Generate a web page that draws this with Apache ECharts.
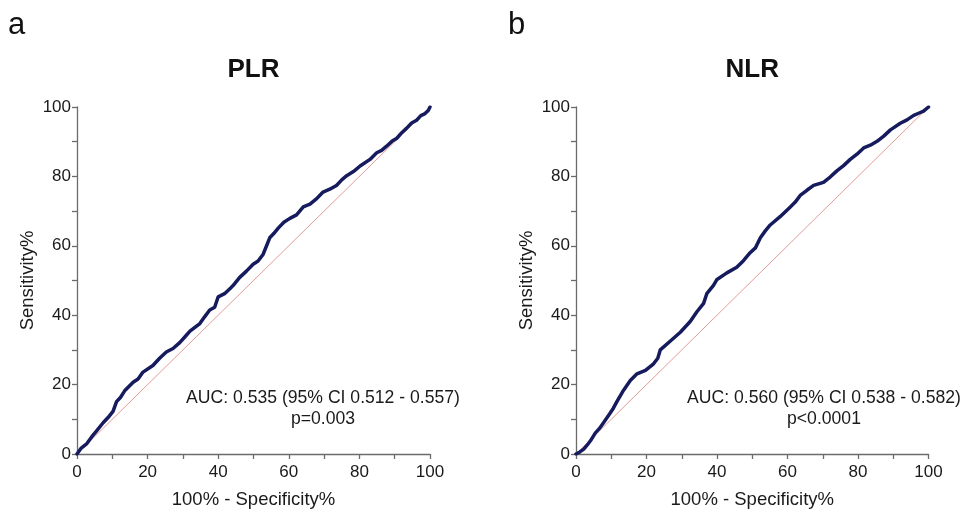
<!DOCTYPE html>
<html>
<head>
<meta charset="utf-8">
<script src="https://cdn.jsdelivr.net/npm/echarts@6/dist/echarts.min.js"></script>
<style>
  html, body { margin: 0; padding: 0; background: #fff; }
  #chart { width: 963px; height: 514px; }
</style>
</head>
<body>
<div id="chart"></div>
<script>
// ROC curve points: [100% - Specificity%, Sensitivity%]
const plrRoc = [
  [0, 0], [1.2, 1.7], [2.8, 3.0], [4.2, 5.0], [5.5, 6.6], [7.4, 9.0], [8.8, 10.5],
  [10.2, 12.3], [11.2, 15.1], [12.3, 16.3], [13.5, 18.2], [15.9, 20.7], [17.3, 21.6],
  [18.7, 23.6], [21.5, 25.5], [23.4, 27.6], [25.3, 29.4], [27.2, 30.4], [29.1, 32.1],
  [30.6, 33.8], [32.0, 35.4], [34.8, 37.6], [36.2, 39.6], [37.6, 41.5], [39.0, 42.3],
  [40.0, 45.3], [41.8, 46.2], [43.3, 47.6], [44.6, 49.0], [46.1, 50.9], [48.0, 52.7],
  [49.9, 54.7], [51.3, 55.6], [52.7, 57.5], [54.6, 62.3], [55.8, 63.6], [57.0, 65.1],
  [58.6, 66.8], [60.3, 67.9], [62.2, 68.9], [64.1, 71.2], [66.0, 72.0], [67.9, 73.6],
  [69.7, 75.5], [71.6, 76.3], [73.5, 77.4], [75.0, 79.0], [76.4, 80.2], [78.3, 81.4],
  [80.2, 83.0], [83.0, 84.9], [84.9, 86.8], [86.3, 87.5], [87.7, 88.7], [89.2, 90.1],
  [90.6, 91.0], [92.0, 92.6], [93.4, 93.9], [94.8, 95.4], [96.2, 96.2], [97.4, 97.5],
  [98.6, 98.1], [99.5, 99.0], [100, 100]
];
const nlrRoc = [
  [0, 0], [1.1, 0.6], [2.2, 1.4], [3.2, 2.6], [4.1, 3.8], [5.5, 6.1], [6.6, 7.3],
  [7.8, 9.0], [9.7, 11.8], [10.6, 13.2], [11.6, 15.1], [13.5, 18.4], [15.4, 21.2],
  [17.3, 23.1], [19.7, 24.1], [22.0, 26.0], [23.2, 27.6], [23.9, 30.0], [26.7, 32.5],
  [29.6, 35.1], [32.4, 38.2], [34.3, 41.0], [36.2, 43.4], [37.1, 46.2], [39.0, 48.6],
  [40.0, 50.3], [42.8, 52.2], [45.6, 53.8], [47.5, 55.7], [49.4, 58.0], [50.9, 59.4],
  [52.3, 62.3], [53.7, 64.3], [55.1, 66.0], [57.9, 68.4], [60.8, 71.2], [62.2, 72.6],
  [63.6, 74.5], [65.5, 76.0], [67.4, 77.4], [70.2, 78.3], [72.1, 79.8], [74.0, 81.6],
  [75.9, 83.1], [77.8, 84.9], [79.7, 86.4], [81.6, 88.2], [83.5, 89.0], [85.4, 90.1],
  [87.3, 91.6], [89.2, 93.4], [92.0, 95.3], [93.9, 96.3], [95.8, 97.6], [97.2, 98.2],
  [98.6, 98.8], [100, 100]
];
// Line of no discrimination
const chanceLine = [[0, 0], [100, 100]];

const panelLetters = ['a', 'b'];
const panelTitles = ['PLR', 'NLR'];
const aucTexts = ['AUC: 0.535 (95% CI 0.512 - 0.557)', 'AUC: 0.560 (95% CI 0.538 - 0.582)'];
const pTexts = ['p=0.003', 'p<0.0001'];
const xAxisName = '100% - Specificity%';
const yAxisName = 'Sensitivity%';
const tickLabels = ['0', '20', '40', '60', '80', '100'];

const FONT = 'Liberation Sans, Arial, Helvetica, sans-serif';
const AXIS_COLOR = '#6b6b6b';
const TEXT_COLOR = '#1a1a1a';
const CURVE_COLOR = '#161b5e';
const CHANCE_COLOR = '#e59a98';

const grids = [
  { left: 77, top: 107, width: 353, height: 353 },
  { left: 576, top: 107, width: 352.5, height: 353 }
];

function makeAxis(type, gridIndex) {
  const isX = type === 'x';
  return {
    type: 'value',
    gridIndex: gridIndex,
    min: 0, max: 100, interval: 10,
    name: isX ? xAxisName : yAxisName,
    nameLocation: 'middle',
    nameGap: isX ? 36 : 40,
    nameTextStyle: { fontFamily: FONT, fontSize: 18.5, color: TEXT_COLOR },
    axisLine: { show: true, onZero: false, lineStyle: { color: AXIS_COLOR, width: 1.3 } },
    axisTick: { show: true, length: 5, lineStyle: { color: AXIS_COLOR, width: 1.3 } },
    splitLine: { show: false },
    axisLabel: {
      fontFamily: FONT, fontSize: 17, color: TEXT_COLOR, margin: isX ? 10 : 6,
      showMinLabel: true, showMaxLabel: true,
      formatter: v => (tickLabels.indexOf(String(v)) >= 0 ? String(v) : '')
    }
  };
}

const titles = [];
panelLetters.forEach((t, i) => {
  titles.push({ text: t, left: i === 0 ? 3 : 503, top: 5,
    textStyle: { fontFamily: FONT, fontSize: 31, fontWeight: 'normal', color: '#111' } });
});

const graphics = [];
panelTitles.forEach((t, i) => {
  const cx = grids[i].left + grids[i].width / 2;
  graphics.push({ type: 'text', x: cx, y: 70,
    style: { text: t, textAlign: 'center', textVerticalAlign: 'middle',
      font: 'bold 26px ' + FONT, fill: '#111' } });
});
aucTexts.forEach((t, i) => {
  const cx = i === 0 ? 323 : 824;
  graphics.push({ type: 'text', x: cx, y: 398,
    style: { text: t, textAlign: 'center', textVerticalAlign: 'middle',
      font: '17.6px ' + FONT, fill: TEXT_COLOR } });
  graphics.push({ type: 'text', x: cx, y: 419,
    style: { text: pTexts[i], textAlign: 'center', textVerticalAlign: 'middle',
      font: '17.6px ' + FONT, fill: TEXT_COLOR } });
});

const series = [];
[plrRoc, nlrRoc].forEach((roc, i) => {
  series.push({
    type: 'line', xAxisIndex: i, yAxisIndex: i, data: chanceLine,
    showSymbol: false, silent: true, z: 1,
    lineStyle: { color: CHANCE_COLOR, width: 1 }
  });
  series.push({
    type: 'line', xAxisIndex: i, yAxisIndex: i, data: roc,
    showSymbol: false, smooth: false, z: 2,
    lineStyle: { color: CURVE_COLOR, width: 3.5, join: 'round', cap: 'round' }
  });
});

const chart = echarts.init(document.getElementById('chart'), null, { renderer: 'canvas' });
chart.setOption({
  backgroundColor: '#ffffff',
  animation: false,
  title: titles,
  grid: grids,
  xAxis: [makeAxis('x', 0), makeAxis('x', 1)],
  yAxis: [makeAxis('y', 0), makeAxis('y', 1)],
  graphic: graphics,
  series: series
});
</script>
</body>
</html>
